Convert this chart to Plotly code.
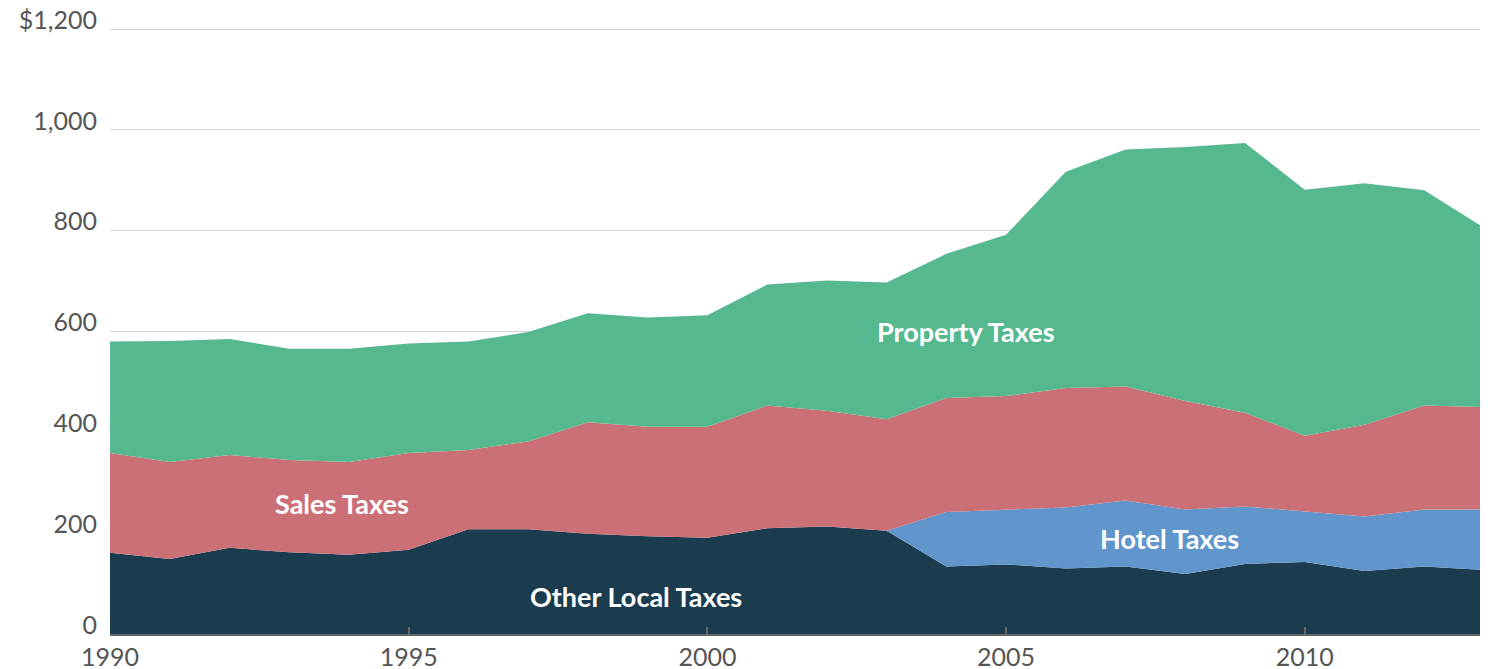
import plotly.graph_objects as go

years = list(range(1990, 2014))

other_local = [161, 149, 171, 162, 157, 167, 208, 208, 199, 194, 191, 210, 213, 205,
               134, 138, 130, 134, 119, 139, 143, 125, 134, 127]
hotel = [0, 0, 0, 0, 0, 0, 0, 0, 0, 0, 0, 0, 0, 0,
         108, 108, 121, 131, 128, 114, 100, 108, 113, 120]
sales = [198, 192, 184, 183, 184, 192, 157, 174, 221, 217, 220, 243, 230, 221,
         226, 226, 237, 226, 215, 186, 150, 182, 206, 203]
property_tax = [221, 240, 230, 221, 225, 217, 215, 217, 216, 217, 221, 240, 258, 271,
                286, 320, 429, 470, 504, 535, 488, 479, 427, 356]

series_names = ["Other Local Taxes", "Hotel Taxes", "Sales Taxes", "Property Taxes"]
series_values = [other_local, hotel, sales, property_tax]
series_colors = ["#1B3B4F", "#6096CB", "#CC7078", "#56B88E"]

y_tickvals = [0, 200, 400, 600, 800, 1000, 1200]
y_ticktext = ["0", "200", "400", "600", "800", "1,000", "$1,200"]
x_tickvals = [1990, 1995, 2000, 2005, 2010]

# label positions (x = year, y = value)
label_text = ["Property Taxes", "Sales Taxes", "Hotel Taxes", "Other Local Taxes"]
label_x = [2004.33, 1993.88, 2007.73, 1998.8]
label_y = [600, 258, 189, 74]

fig = go.Figure()
for name, vals, col in zip(series_names, series_values, series_colors):
    fig.add_trace(go.Scatter(
        x=years, y=vals, name=name, mode="lines",
        stackgroup="one", line=dict(width=0, color=col),
        fillcolor=col, hoverinfo="x+y+name",
    ))

for t, x, y in zip(label_text, label_x, label_y):
    fig.add_annotation(x=x, y=y, text="<b>" + t + "</b>", showarrow=False,
                       font=dict(family="Lato", size=27, color="white"))

tick_font = dict(family="Lato", size=25, color="#555555", weight=400)

# page body has an 8px default margin, so the figure is sized to fit the window
fig.update_layout(
    width=1480, height=661,
    margin=dict(l=102, r=4, t=20, b=35, autoexpand=False),
    paper_bgcolor="white", plot_bgcolor="white",
    showlegend=False,
    xaxis=dict(
        range=[1990, 2013], tickvals=x_tickvals, ticktext=[str(v) for v in x_tickvals],
        showgrid=False, zeroline=False, automargin=False,
        showline=True, linecolor="#666666", linewidth=2,
        ticks="inside", ticklen=7, tickwidth=2, tickcolor="#666666",
        tickfont=tick_font, ticklabeloverflow="allow",
    ),
    xaxis2=dict(
        range=[1990, 2013], overlaying="x", anchor="y", side="bottom",
        tickvals=x_tickvals, showticklabels=False, showgrid=False, zeroline=False,
        showline=False, ticks="outside", ticklen=7, tickwidth=2, tickcolor="#666666",
        automargin=False,
    ),
    yaxis=dict(
        range=[0, 1202], tickvals=y_tickvals, ticktext=y_ticktext,
        showgrid=True, gridcolor="#d4d4d4", gridwidth=1,
        zeroline=False, showline=False, ticks="", automargin=False,
        tickfont=tick_font, ticklabelstandoff=12, ticklabelshift=-9,
        ticklabeloverflow="allow",
    ),
)

fig.write_html("out.html")
